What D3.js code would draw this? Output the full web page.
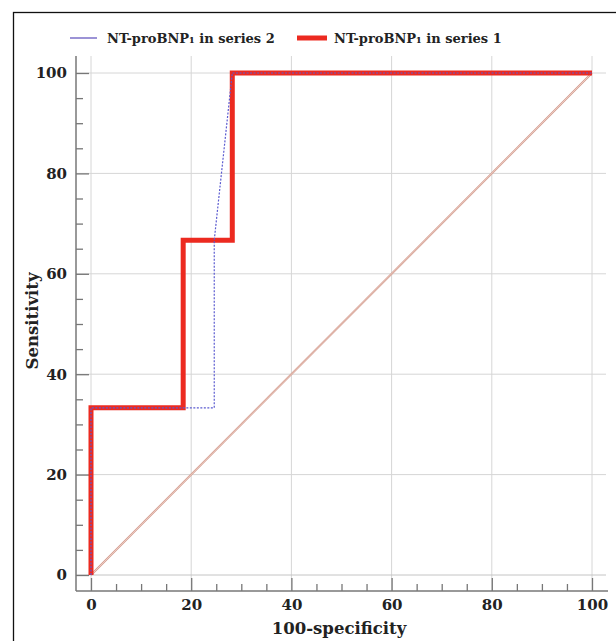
<!DOCTYPE html>
<html><head><meta charset="utf-8">
<script src="https://cdn.jsdelivr.net/npm/d3@7"></script>
<style>
body{margin:0;background:#fff;}
svg{display:block;}
text{font-family:"DejaVu Serif","Liberation Serif",serif;font-weight:bold;fill:#222;}
</style></head>
<body>
<script>
const series1Name = "NT-proBNP₁ in series 1";
const series2Name = "NT-proBNP₁ in series 2";
const series1X = [0, 0, 18.4, 18.4, 28.2, 28.2, 100];
const series1Y = [0, 33.3, 33.3, 66.7, 66.7, 100, 100];
const series2X = [0, 0, 24.6, 24.6, 28.2, 100];
const series2Y = [0, 33.3, 33.3, 66.7, 100, 100];
const diagX = [0, 100];
const diagY = [0, 100];
const majorTicks = [0, 20, 40, 60, 80, 100];
const minorTicks = [5, 10, 15, 25, 30, 35, 45, 50, 55, 65, 70, 75, 85, 90, 95];
const xTitle = "100-specificity";
const yTitle = "Sensitivity";

const W = 616, H = 641;
const FONT = "DejaVu Serif, Liberation Serif, serif";
const svg = d3.select("body").append("svg").attr("width", W).attr("height", H);

// frame
svg.append("rect").attr("x", 13.5).attr("y", 12.5).attr("width", 640).attr("height", 660)
  .attr("fill", "#fff").attr("stroke", "#111").attr("stroke-width", 1.3);

const x = d3.scaleLinear().domain([0, 100]).range([91, 592]);
const y = d3.scaleLinear().domain([0, 100]).range([575, 73]);
const axisX = 76, axisY = 591;
const plotRight = 606, plotTop = 56;

// grid
const g = svg.append("g");
g.selectAll(".vg").data(majorTicks).enter().append("line")
  .attr("x1", d => x(d)).attr("x2", d => x(d)).attr("y1", plotTop).attr("y2", axisY)
  .attr("stroke", "#d6d6d6").attr("stroke-width", 1);
g.selectAll(".hg").data(majorTicks).enter().append("line")
  .attr("y1", d => y(d)).attr("y2", d => y(d)).attr("x1", axisX).attr("x2", plotRight)
  .attr("stroke", d => d === 0 ? "#c4c4c4" : "#d6d6d6").attr("stroke-width", 1);

// axes
const xAxis = svg.append("g").attr("transform", `translate(0,${axisY})`)
  .call(d3.axisBottom(x).tickValues(majorTicks).tickSize(-13).tickPadding(8).tickFormat(d3.format("d")));
const xMinor = svg.append("g").attr("transform", `translate(0,${axisY})`)
  .call(d3.axisBottom(x).tickValues(minorTicks).tickSize(-7).tickFormat(""));
const yAxis = svg.append("g").attr("transform", `translate(${axisX},0)`)
  .call(d3.axisLeft(y).tickValues(majorTicks).tickSize(-13).tickPadding(9).tickFormat(d3.format("d")));
const yMinor = svg.append("g").attr("transform", `translate(${axisX},0)`)
  .call(d3.axisLeft(y).tickValues(minorTicks).tickSize(-7).tickFormat(""));
[xAxis, xMinor, yAxis, yMinor].forEach(a => {
  a.select(".domain").remove();
  a.selectAll(".tick line").attr("stroke", "#777").attr("stroke-width", 1.3);
  a.selectAll("text").attr("font-size", 15).attr("fill", "#222")
    .attr("font-family", FONT).attr("font-weight", "bold");
});
svg.append("line").attr("x1", axisX).attr("x2", 608).attr("y1", axisY).attr("y2", axisY)
  .attr("stroke", "#777").attr("stroke-width", 1.5);
svg.append("line").attr("x1", axisX).attr("x2", axisX).attr("y1", plotTop).attr("y2", axisY)
  .attr("stroke", "#777").attr("stroke-width", 1.5);

const line = d3.line().x(d => x(d[0])).y(d => y(d[1]));

// diagonal
svg.append("path").datum(diagX.map((v, i) => [v, diagY[i]])).attr("d", line)
  .attr("fill", "none").attr("stroke", "#d39a8c").attr("stroke-width", 2);
svg.append("path").datum(diagX.map((v, i) => [v, diagY[i]])).attr("d", line)
  .attr("fill", "none").attr("stroke", "#fbeeea").attr("stroke-width", 0.6);

// series 1 (thick red)
svg.append("path").datum(series1X.map((v, i) => [v, series1Y[i]])).attr("d", line)
  .attr("fill", "none").attr("stroke", "#ec2a20").attr("stroke-width", 5)
  .attr("stroke-linejoin", "miter");
// series 2 (thin blue dotted)
svg.append("path").datum(series2X.map((v, i) => [v, series2Y[i]])).attr("d", line)
  .attr("fill", "none").attr("stroke", "#5b5bd0").attr("stroke-width", 1.2)
  .attr("stroke-dasharray", "2,1.5");

// legend
const lg = svg.append("g");
lg.append("line").attr("x1", 70).attr("x2", 97).attr("y1", 38).attr("y2", 38)
  .attr("stroke", "#7b6fc8").attr("stroke-width", 1.5);
lg.append("text").attr("x", 107).attr("y", 43).attr("font-size", 13).text(series2Name);
lg.append("line").attr("x1", 297).attr("x2", 327).attr("y1", 38).attr("y2", 38)
  .attr("stroke", "#ec2a20").attr("stroke-width", 5);
lg.append("text").attr("x", 334).attr("y", 43).attr("font-size", 13).text(series1Name);

// axis titles
svg.append("text").attr("x", 339).attr("y", 634).attr("text-anchor", "middle")
  .attr("font-size", 16.5).text(xTitle);
svg.append("text").attr("transform", "translate(38,321) rotate(-90)").attr("text-anchor", "middle")
  .attr("font-size", 16.5).text(yTitle);
</script>
</body></html>
